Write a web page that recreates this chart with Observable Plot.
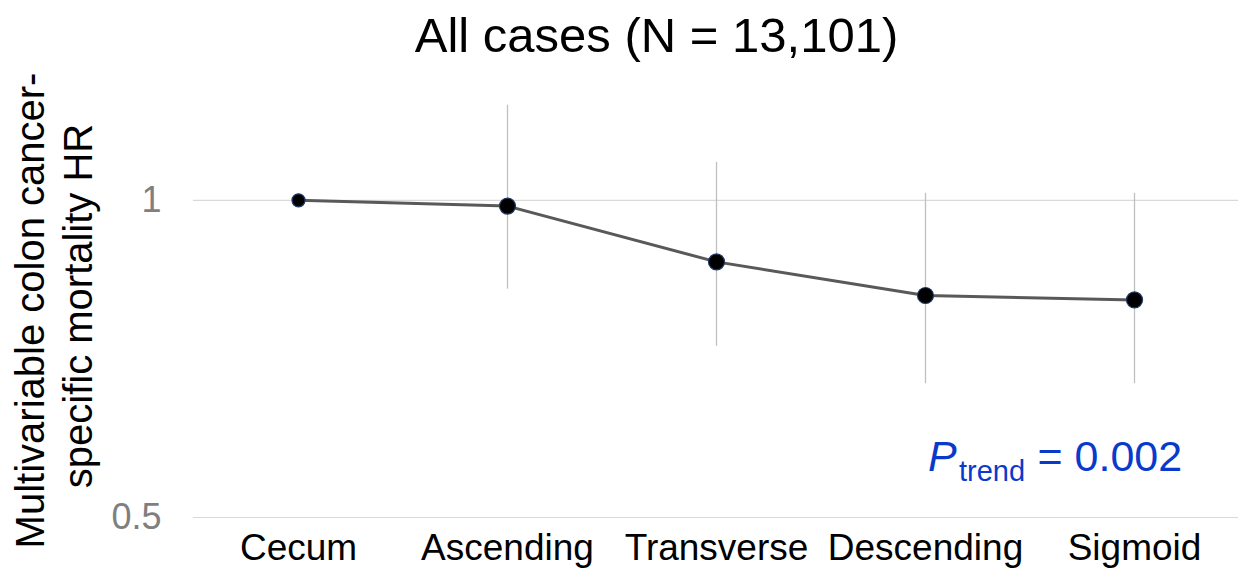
<!DOCTYPE html>
<html>
<head>
<meta charset="utf-8">
<script src="https://cdn.jsdelivr.net/npm/d3@7"></script>
<script src="https://cdn.jsdelivr.net/npm/@observablehq/plot@0.6"></script>
<style>
  html, body { margin: 0; padding: 0; background: #fff; }
  #chart svg { display: block; }
</style>
</head>
<body>
<div id="chart"></div>
<script>
// Data
const sites = ["Cecum", "Ascending", "Transverse", "Descending", "Sigmoid"];
const hr    = [1.0, 0.991, 0.903, 0.850, 0.843];
const lower = [null, 0.860, 0.770, 0.711, 0.711];
const upper = [null, 1.150, 1.060, 1.011, 1.011];
const yTicks = [0.5, 1];
const title = "All cases (N = 13,101)";
const yLabel1 = "Multivariable colon cancer-";
const yLabel2 = "specific mortality HR";
const pLetter = "P";
const pSub = "trend";
const pValue = "= 0.002";

const data = sites.map((s, i) => ({site: s, hr: hr[i], lower: lower[i], upper: upper[i]}));
const ref = data.filter(d => d.lower == null);
const est = data.filter(d => d.lower != null);

const font = "'Liberation Sans', Arial, Helvetica, sans-serif";
const blue = "#0a3acb";

const chart = Plot.plot({
  width: 1245,
  height: 572,
  marginLeft: 193,
  marginRight: 7,
  marginTop: 73,
  marginBottom: 55,
  style: {fontFamily: font, background: "#fff", color: "#000", overflow: "visible"},
  x: {type: "point", domain: sites, padding: 0.5, label: null},
  y: {domain: [0.5, 1.2], label: null, ticks: yTicks},
  marks: [
    Plot.gridY(yTicks, {stroke: "#d9d9d9", strokeOpacity: 1, strokeWidth: 1.2}),
    Plot.axisY(yTicks, {tickSize: 0, tickPadding: 32, fontSize: 36, color: "#7f7f7f", tickFormat: d => String(d), label: null}),
    Plot.axisX({tickSize: 0, tickPadding: 16, fontSize: 37, color: "#000", label: null}),
    Plot.ruleX(est, {x: "site", y1: "lower", y2: "upper", stroke: "#bfbfbf", strokeWidth: 1.3}),
    Plot.line(data, {x: "site", y: "hr", stroke: "#595959", strokeWidth: 3}),
    Plot.dot(ref, {x: "site", y: "hr", r: 6.5, fill: "#000", stroke: "#203864", strokeWidth: 1.2}),
    Plot.dot(est, {x: "site", y: "hr", r: 8, fill: "#000", stroke: "#203864", strokeWidth: 1.2}),
    // title
    Plot.text([title], {frameAnchor: "top", dx: -59.5, dy: -22, lineAnchor: "bottom", fontSize: 49, fill: "#000"}),
    // y axis label (two lines)
    Plot.text([yLabel1], {frameAnchor: "left", dx: -149.5, dy: 15, rotate: -90, lineAnchor: "bottom", textAnchor: "middle", fontSize: 40, fill: "#000"}),
    Plot.text([yLabel2], {frameAnchor: "left", dx: -101.3, dy: 10.5, rotate: -90, lineAnchor: "bottom", textAnchor: "middle", fontSize: 40, fill: "#000"}),
    // P trend annotation
    Plot.text([pLetter], {frameAnchor: "top-left", dx: 734.5, dy: 397, lineAnchor: "bottom", textAnchor: "start", fontSize: 43, fontStyle: "italic", fill: blue}),
    Plot.text([pSub], {frameAnchor: "top-left", dx: 765.5, dy: 407, lineAnchor: "bottom", textAnchor: "start", fontSize: 29, fill: blue}),
    Plot.text([pValue], {frameAnchor: "top-left", dx: 844, dy: 397, lineAnchor: "bottom", textAnchor: "start", fontSize: 43, fill: blue})
  ]
});
document.getElementById("chart").appendChild(chart);
</script>
</body>
</html>
